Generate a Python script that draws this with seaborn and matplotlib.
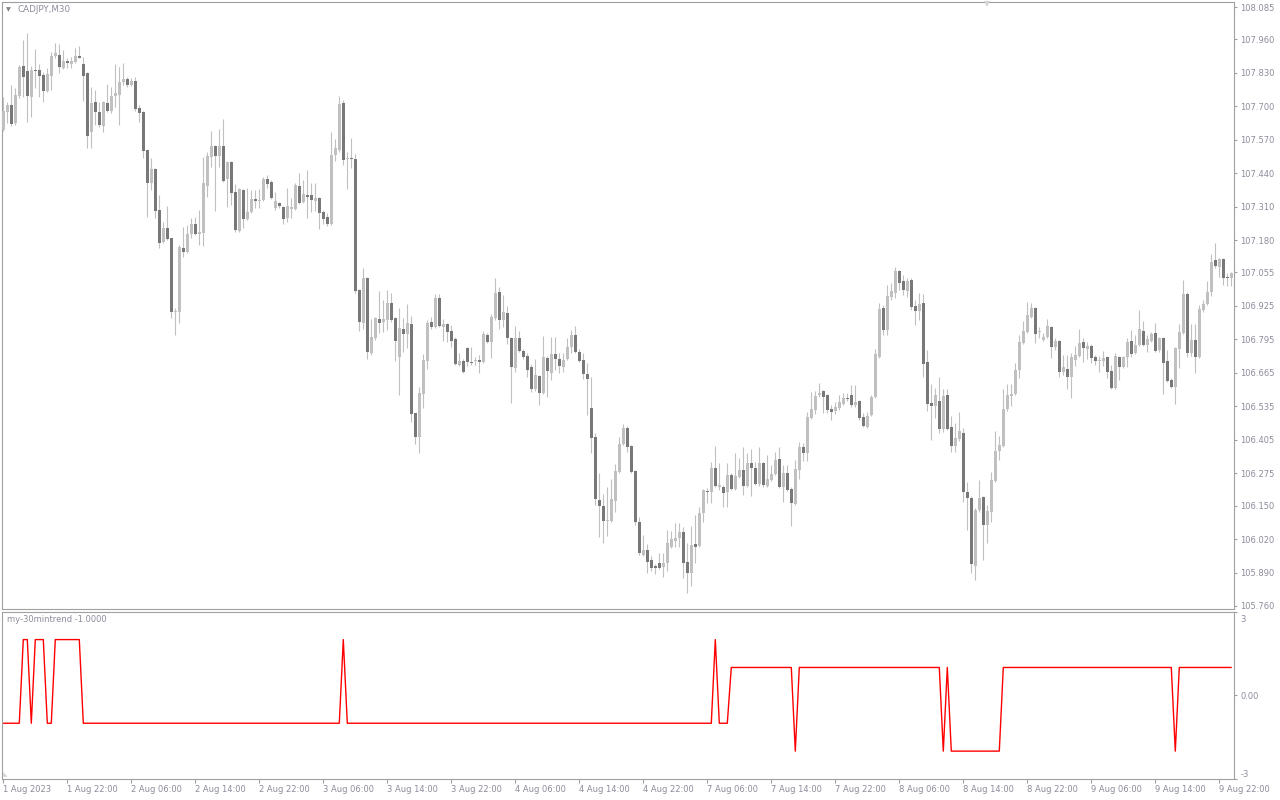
import numpy as np
import pandas as pd
import matplotlib
matplotlib.use("Agg")
import matplotlib.pyplot as plt
import matplotlib.transforms as mtransforms
import seaborn as sns

sns.set_theme(style="white")
plt.rcParams['font.family'] = ['DejaVu Sans']

# ---------------- data (CADJPY M30 candles) ----------------
opens = [
 107.608, 107.678, 107.706, 107.635, 107.740, 107.857, 107.837, 107.737, 107.841, 107.841,
 107.822, 107.760, 107.818, 107.896, 107.899, 107.849, 107.876, 107.864, 107.872, 107.896,
 107.864, 107.830, 107.600, 107.717, 107.678, 107.624, 107.713, 107.682, 107.740, 107.744,
 107.795, 107.806, 107.783, 107.799, 107.694, 107.678, 107.531, 107.402, 107.457, 107.298,
 107.173, 107.228, 107.189, 106.901, 106.901, 107.150, 107.135, 107.205, 107.243, 107.205,
 107.208, 107.391, 107.504, 107.546, 107.507, 107.546, 107.418, 107.484, 107.368, 107.216,
 107.375, 107.263, 107.290, 107.340, 107.333, 107.336, 107.418, 107.406, 107.305, 107.325,
 107.309, 107.267, 107.302, 107.302, 107.391, 107.329, 107.356, 107.356, 107.333, 107.344,
 107.290, 107.270, 107.243, 107.511, 107.531, 107.713, 107.496, 107.500, 107.496, 106.987,
 106.859, 107.034, 106.742, 106.801, 106.874, 106.863, 106.870, 106.936, 106.878, 106.727,
 106.836, 106.816, 106.855, 106.509, 106.416, 106.583, 106.711, 106.863, 106.843, 106.956,
 106.843, 106.855, 106.828, 106.797, 106.696, 106.711, 106.762, 106.707, 106.711, 106.715,
 106.707, 106.812, 106.785, 106.878, 106.979, 106.870, 106.898, 106.801, 106.684, 106.801,
 106.750, 106.731, 106.688, 106.603, 106.653, 106.587, 106.723, 106.665, 106.738, 106.719,
 106.688, 106.719, 106.766, 106.812, 106.746, 106.715, 106.661, 106.529, 106.416, 106.172,
 106.148, 106.090, 106.090, 106.168, 106.280, 106.389, 106.451, 106.381, 106.284, 106.086,
 105.958, 105.977, 105.939, 105.915, 105.927, 105.911, 105.927, 105.989, 106.012, 106.024,
 106.047, 105.931, 105.888, 106.001, 105.993, 106.121, 106.207, 106.203, 106.296, 106.222,
 106.222, 106.203, 106.269, 106.214, 106.261, 106.288, 106.226, 106.315, 106.296, 106.234,
 106.315, 106.226, 106.249, 106.272, 106.331, 106.222, 106.276, 106.214, 106.156, 106.288,
 106.377, 106.354, 106.490, 106.521, 106.579, 106.595, 106.579, 106.525, 106.517, 106.529,
 106.544, 106.568, 106.579, 106.540, 106.556, 106.494, 106.455, 106.502, 106.571, 106.727,
 106.917, 106.832, 106.960, 106.975, 107.061, 107.022, 106.983, 107.026, 106.925, 106.905,
 106.936, 106.707, 106.548, 106.537, 106.556, 106.447, 106.579, 106.455, 106.381, 106.408,
 106.432, 106.203, 106.179, 105.915, 106.133, 106.183, 106.075, 106.125, 106.245, 106.362,
 106.381, 106.525, 106.575, 106.583, 106.676, 106.781, 106.824, 106.882, 106.917, 106.824,
 106.793, 106.805, 106.843, 106.766, 106.789, 106.669, 106.680, 106.649, 106.715, 106.731,
 106.785, 106.758, 106.770, 106.727, 106.711, 106.711, 106.727, 106.672, 106.607, 106.727,
 106.688, 106.727, 106.789, 106.742, 106.773, 106.828, 106.773, 106.789, 106.820, 106.754,
 106.801, 106.711, 106.637, 106.610, 106.758, 106.820, 106.971, 106.742, 106.793, 106.727,
 106.909, 106.933, 106.979, 107.103, 107.076, 107.107, 107.037, 107.034]

highs = [
 107.737, 107.717, 107.783, 107.771, 107.861, 107.958, 107.985, 107.857, 107.923, 107.864,
 107.833, 107.849, 107.911, 107.946, 107.942, 107.919, 107.888, 107.892, 107.927, 107.934,
 107.892, 107.833, 107.775, 107.764, 107.717, 107.719, 107.787, 107.775, 107.864, 107.853,
 107.868, 107.814, 107.810, 107.814, 107.706, 107.682, 107.535, 107.500, 107.461, 107.356,
 107.251, 107.313, 107.190, 106.917, 107.162, 107.232, 107.240, 107.267, 107.270, 107.298,
 107.504, 107.523, 107.604, 107.550, 107.612, 107.651, 107.488, 107.488, 107.399, 107.383,
 107.379, 107.383, 107.375, 107.375, 107.379, 107.426, 107.434, 107.414, 107.368, 107.329,
 107.313, 107.383, 107.344, 107.402, 107.441, 107.414, 107.453, 107.402, 107.402, 107.348,
 107.298, 107.286, 107.600, 107.573, 107.740, 107.725, 107.523, 107.577, 107.515, 106.991,
 107.072, 107.037, 106.874, 106.882, 106.983, 106.948, 106.987, 106.975, 106.882, 106.917,
 106.878, 106.933, 106.886, 106.511, 106.610, 106.738, 106.870, 106.882, 106.971, 106.971,
 106.874, 106.859, 106.851, 106.805, 106.742, 106.719, 106.766, 106.766, 106.727, 106.735,
 106.828, 106.820, 106.894, 107.034, 106.999, 106.967, 106.925, 106.805, 106.847, 106.828,
 106.758, 106.742, 106.700, 106.719, 106.657, 106.808, 106.731, 106.805, 106.805, 106.742,
 106.742, 106.801, 106.832, 106.847, 106.758, 106.742, 106.704, 106.649, 106.432, 106.276,
 106.195, 106.222, 106.253, 106.311, 106.416, 106.467, 106.459, 106.385, 106.288, 106.106,
 106.036, 106.001, 105.954, 105.923, 105.966, 105.966, 106.055, 106.051, 106.082, 106.082,
 106.067, 106.005, 106.071, 106.113, 106.144, 106.214, 106.218, 106.319, 106.381, 106.315,
 106.230, 106.315, 106.276, 106.354, 106.335, 106.377, 106.354, 106.370, 106.319, 106.377,
 106.319, 106.346, 106.307, 106.358, 106.377, 106.307, 106.307, 106.222, 106.327, 106.397,
 106.393, 106.513, 106.591, 106.595, 106.626, 106.599, 106.583, 106.540, 106.552, 106.579,
 106.587, 106.587, 106.618, 106.618, 106.560, 106.509, 106.513, 106.579, 106.758, 106.936,
 106.929, 107.006, 107.014, 107.076, 107.065, 107.045, 107.034, 107.034, 106.948, 106.975,
 106.971, 106.754, 106.622, 106.607, 106.649, 106.603, 106.603, 106.498, 106.470, 106.513,
 106.451, 106.241, 106.187, 106.141, 106.249, 106.187, 106.152, 106.280, 106.439, 106.420,
 106.603, 106.622, 106.622, 106.704, 106.812, 106.867, 106.940, 106.936, 106.921, 106.843,
 106.820, 106.874, 106.847, 106.801, 106.793, 106.735, 106.735, 106.742, 106.770, 106.836,
 106.801, 106.785, 106.777, 106.735, 106.731, 106.750, 106.731, 106.696, 106.742, 106.731,
 106.731, 106.801, 106.832, 106.812, 106.909, 106.867, 106.812, 106.824, 106.859, 106.805,
 106.805, 106.754, 106.645, 106.766, 106.855, 107.026, 106.979, 106.855, 106.855, 106.929,
 106.948, 107.022, 107.127, 107.170, 107.111, 107.111, 107.053, 107.057]

lows = [
 107.604, 107.635, 107.624, 107.628, 107.733, 107.737, 107.639, 107.659, 107.771, 107.737,
 107.717, 107.756, 107.764, 107.888, 107.830, 107.845, 107.849, 107.849, 107.870, 107.888,
 107.721, 107.538, 107.538, 107.628, 107.620, 107.600, 107.678, 107.674, 107.698, 107.628,
 107.783, 107.775, 107.779, 107.682, 107.639, 107.500, 107.270, 107.375, 107.266, 107.150,
 107.169, 107.181, 106.878, 106.812, 106.859, 107.115, 107.131, 107.189, 107.201, 107.162,
 107.158, 107.348, 107.465, 107.294, 107.465, 107.406, 107.309, 107.317, 107.212, 107.212,
 107.228, 107.259, 107.286, 107.305, 107.305, 107.333, 107.383, 107.340, 107.298, 107.305,
 107.243, 107.251, 107.267, 107.298, 107.322, 107.325, 107.267, 107.290, 107.294, 107.224,
 107.243, 107.236, 107.240, 107.488, 107.523, 107.472, 107.379, 107.461, 106.975, 106.828,
 106.836, 106.719, 106.735, 106.793, 106.820, 106.824, 106.832, 106.863, 106.711, 106.579,
 106.746, 106.762, 106.474, 106.389, 106.354, 106.529, 106.680, 106.836, 106.841, 106.843,
 106.789, 106.785, 106.766, 106.696, 106.692, 106.665, 106.692, 106.696, 106.696, 106.665,
 106.704, 106.781, 106.723, 106.870, 106.836, 106.843, 106.777, 106.548, 106.669, 106.746,
 106.719, 106.649, 106.591, 106.595, 106.540, 106.583, 106.571, 106.637, 106.676, 106.665,
 106.669, 106.715, 106.742, 106.742, 106.707, 106.641, 106.502, 106.354, 106.152, 106.028,
 106.005, 106.032, 106.086, 106.125, 106.276, 106.385, 106.358, 106.276, 106.075, 105.958,
 105.954, 105.888, 105.896, 105.884, 105.904, 105.872, 105.896, 105.985, 105.989, 105.989,
 105.869, 105.810, 105.838, 105.927, 105.989, 106.086, 106.160, 106.160, 106.222, 106.210,
 106.144, 106.144, 106.210, 106.210, 106.257, 106.191, 106.222, 106.187, 106.230, 106.226,
 106.222, 106.222, 106.245, 106.269, 106.218, 106.164, 106.207, 106.071, 106.152, 106.253,
 106.323, 106.323, 106.486, 106.505, 106.571, 106.509, 106.509, 106.482, 106.505, 106.521,
 106.540, 106.556, 106.533, 106.533, 106.482, 106.455, 106.451, 106.498, 106.568, 106.723,
 106.812, 106.812, 106.948, 106.956, 106.987, 106.968, 106.960, 106.909, 106.851, 106.870,
 106.649, 106.517, 106.405, 106.490, 106.432, 106.436, 106.443, 106.358, 106.358, 106.401,
 106.164, 106.055, 105.888, 105.861, 106.125, 105.939, 106.005, 106.086, 106.241, 106.327,
 106.377, 106.517, 106.537, 106.579, 106.645, 106.777, 106.820, 106.878, 106.781, 106.801,
 106.789, 106.801, 106.723, 106.754, 106.649, 106.657, 106.603, 106.568, 106.692, 106.727,
 106.707, 106.719, 106.704, 106.696, 106.669, 106.692, 106.645, 106.603, 106.603, 106.637,
 106.684, 106.688, 106.727, 106.738, 106.770, 106.770, 106.746, 106.785, 106.746, 106.746,
 106.583, 106.630, 106.606, 106.544, 106.684, 106.816, 106.727, 106.731, 106.665, 106.723,
 106.902, 106.929, 106.964, 107.072, 107.037, 107.006, 107.003, 107.003]

closes = [
 107.682, 107.706, 107.631, 107.744, 107.853, 107.814, 107.740, 107.841, 107.838, 107.818,
 107.760, 107.826, 107.896, 107.907, 107.853, 107.876, 107.868, 107.876, 107.896, 107.888,
 107.818, 107.585, 107.713, 107.678, 107.628, 107.717, 107.682, 107.740, 107.752, 107.795,
 107.806, 107.783, 107.799, 107.690, 107.674, 107.527, 107.402, 107.457, 107.294, 107.169,
 107.228, 107.185, 106.901, 106.905, 107.154, 107.135, 107.205, 107.243, 107.205, 107.212,
 107.402, 107.507, 107.546, 107.507, 107.546, 107.410, 107.484, 107.364, 107.220, 107.379,
 107.263, 107.290, 107.340, 107.333, 107.336, 107.418, 107.399, 107.344, 107.333, 107.313,
 107.263, 107.313, 107.309, 107.395, 107.325, 107.360, 107.348, 107.336, 107.344, 107.286,
 107.263, 107.243, 107.511, 107.538, 107.709, 107.492, 107.500, 107.496, 106.983, 106.863,
 107.034, 106.746, 106.805, 106.878, 106.859, 106.874, 106.936, 106.870, 106.789, 106.839,
 106.816, 106.859, 106.505, 106.416, 106.587, 106.715, 106.859, 106.843, 106.956, 106.847,
 106.855, 106.824, 106.789, 106.700, 106.711, 106.669, 106.707, 106.704, 106.715, 106.707,
 106.816, 106.785, 106.882, 106.975, 106.870, 106.902, 106.801, 106.688, 106.801, 106.750,
 106.727, 106.676, 106.603, 106.657, 106.587, 106.727, 106.672, 106.738, 106.719, 106.692,
 106.715, 106.766, 106.812, 106.746, 106.711, 106.661, 106.641, 106.412, 106.176, 106.148,
 106.090, 106.094, 106.176, 106.284, 106.389, 106.451, 106.377, 106.280, 106.086, 105.966,
 105.977, 105.931, 105.908, 105.908, 105.908, 105.927, 106.005, 106.020, 106.024, 106.047,
 105.927, 105.888, 105.997, 105.989, 106.121, 106.210, 106.203, 106.296, 106.226, 106.230,
 106.199, 106.269, 106.214, 106.265, 106.288, 106.226, 106.315, 106.296, 106.234, 106.315,
 106.230, 106.253, 106.272, 106.327, 106.222, 106.276, 106.210, 106.160, 106.292, 106.377,
 106.354, 106.494, 106.525, 106.575, 106.587, 106.571, 106.521, 106.513, 106.533, 106.552,
 106.568, 106.564, 106.540, 106.552, 106.490, 106.459, 106.498, 106.571, 106.738, 106.913,
 106.832, 106.964, 106.983, 107.061, 107.014, 106.987, 107.022, 106.921, 106.905, 106.933,
 106.700, 106.544, 106.537, 106.579, 106.447, 106.575, 106.447, 106.381, 106.412, 106.439,
 106.203, 106.179, 105.923, 106.133, 106.179, 106.075, 106.129, 106.249, 106.362, 106.385,
 106.525, 106.579, 106.583, 106.676, 106.785, 106.828, 106.890, 106.917, 106.816, 106.828,
 106.805, 106.847, 106.766, 106.789, 106.669, 106.688, 106.649, 106.727, 106.735, 106.781,
 106.762, 106.770, 106.723, 106.711, 106.715, 106.723, 106.669, 106.607, 106.731, 106.688,
 106.727, 106.785, 106.738, 106.773, 106.836, 106.773, 106.797, 106.816, 106.750, 106.801,
 106.704, 106.634, 106.610, 106.762, 106.824, 106.971, 106.742, 106.793, 106.727, 106.913,
 106.933, 106.979, 107.096, 107.080, 107.107, 107.034, 107.034, 107.053]

# indicator "my-30mintrend": level values and how many consecutive bars hold each level
trend_levels = [-1, 2, -1, 2, -1, 2, -1, 2, -1, 2, -1, 1, -2, 1, -2, 1, -2, 1, -2, 1]
trend_runs = [5, 2, 1, 3, 2, 7, 65, 1, 92, 1, 3, 16, 1, 36, 1, 1, 13, 43, 1, 14]

price_ticks = [108.085, 107.960, 107.830, 107.700, 107.570, 107.440, 107.310, 107.180,
               107.055, 106.925, 106.795, 106.665, 106.535, 106.405, 106.275, 106.150,
               106.020, 105.890, 105.760]
ind_ticks = [3, 0, -3]
ind_tick_labels = ["3", "0.00", "-3"]
time_labels = ["1 Aug 2023", "1 Aug 22:00", "2 Aug 06:00", "2 Aug 14:00", "2 Aug 22:00",
               "3 Aug 06:00", "3 Aug 14:00", "3 Aug 22:00", "4 Aug 06:00", "4 Aug 14:00",
               "4 Aug 22:00", "7 Aug 06:00", "7 Aug 14:00", "7 Aug 22:00", "8 Aug 06:00",
               "8 Aug 14:00", "8 Aug 22:00", "9 Aug 06:00", "9 Aug 14:00", "9 Aug 22:00"]
bars_per_label = 16

# ---------------- build frames ----------------
df = pd.DataFrame({"open": opens, "high": highs, "low": lows, "close": closes})
df["bar"] = np.arange(len(df))
trend = np.repeat(trend_levels, trend_runs)
tdf = pd.DataFrame({"bar": np.arange(len(trend)), "trend": trend})

W, H = 1280, 800
fig = plt.figure(figsize=(W / 100, H / 100), dpi=100)
fig.patch.set_facecolor("white")

def frac_rect(x0, y0, x1, y1):
    return [x0 / W, 1 - y1 / H, (x1 - x0) / W, (y1 - y0) / H]

ax = fig.add_axes(frac_rect(2.3, 1.7, 1233.5, 609))
ax2 = fig.add_axes(frac_rect(2.3, 611.7, 1233.5, 779))

LIGHT = "#c0c0c0"
DARK = "#787878"
SPINE = "#a0a0a0"
TXT = "#8c8c9c"

# candles
up = df["close"] >= df["open"]
ax.vlines(df["bar"], df["low"], df["high"], color=LIGHT, linewidth=0.8, zorder=2)
body_bottom = np.minimum(df["open"], df["close"])
body_h = np.maximum((df["close"] - df["open"]).abs(), 0.0035)
ax.bar(df["bar"], body_h, bottom=body_bottom, width=0.72,
       color=np.where(up, LIGHT, DARK), linewidth=0, zorder=3)

ax.set_xlim(-0.25, 307.55)
ax.set_ylim(105.7483, 108.1064)
ax.set_xticks([])
ax.yaxis.tick_right()
ax.set_yticks(price_ticks)
ax.set_yticklabels([f"{v:.3f}" for v in price_ticks])
ax.tick_params(axis="y", which="both", direction="out", length=2.5, width=0.8,
               color=SPINE, labelcolor=TXT, labelsize=6, pad=2.5,
               right=True, left=False, labelright=True, labelleft=False)
ax.set_xlabel("")
ax.set_ylabel("")

# indicator
sns.lineplot(data=tdf, x="bar", y="trend", ax=ax2, color="#ff0000",
             linewidth=1.0, estimator=None)
ax2.set_xlim(-0.25, 307.55)
ax2.set_ylim(-3, 3)
ax2.yaxis.tick_right()
ax2.set_yticks(ind_ticks)
ax2.set_yticklabels(ind_tick_labels)
ax2.tick_params(axis="y", direction="out", length=2.5, width=0.8, color=SPINE,
                labelcolor=TXT, labelsize=6, pad=2.5, right=True, left=False,
                labelright=True, labelleft=False)
ylabs = ax2.get_yticklabels()
ylabs[0].set_va("top")
ylabs[0].set_transform(ylabs[0].get_transform() +
                       mtransforms.ScaledTranslation(0, -3 / 100, fig.dpi_scale_trans))
ylabs[2].set_va("bottom")
ax2.set_xticks(np.arange(len(time_labels)) * bars_per_label)
ax2.set_xticklabels(time_labels, ha="left")
ax2.tick_params(axis="x", direction="out", length=3, width=0.8, color=SPINE,
                labelcolor=TXT, labelsize=6, pad=1.5, bottom=True)
ax2.set_xlabel("")
ax2.set_ylabel("")

for a in (ax, ax2):
    a.set_facecolor("white")
    a.grid(False)
    for s in a.spines.values():
        s.set_visible(True)
        s.set_color(SPINE)
        s.set_linewidth(0.8)

# header texts
fig.text(8 / W, 1 - 10 / H, "\u25BC", fontsize=4.5, color="#808080", ha="center", va="center")
fig.text(18 / W, 1 - 10 / H, "CADJPY,M30", fontsize=6.3, color=TXT, ha="left", va="center")
fig.text(7 / W, 1 - 620 / H, "my-30mintrend -1.0000", fontsize=6, color=TXT, ha="left", va="center")
fig.text(987 / W, 1 - 4 / H, "\u25BC", fontsize=5.5, color="#d4d4d4", ha="center", va="center")
fig.text(5 / W, 1 - 775 / H, "\u25E3", fontsize=4.5, color="#d4d4d4", ha="center", va="center")

fig.savefig("out.png", dpi=100, facecolor="white")
